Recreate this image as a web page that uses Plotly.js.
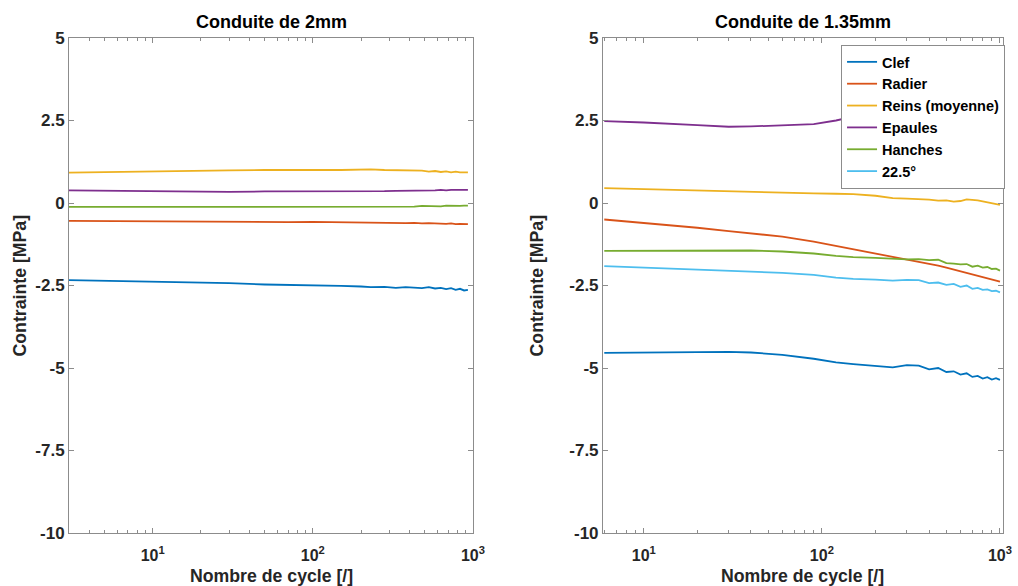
<!DOCTYPE html>
<html>
<head>
<meta charset="utf-8">
<script src="https://cdn.plot.ly/plotly-3.0.1.min.js"></script>
<style>html,body{margin:0;padding:0;background:#fff;}#chart{width:1018px;height:586px;}</style>
</head>
<body>
<div id="chart"></div>
<script>
// ---- Data ----
const seriesNames = ["Clef", "Radier", "Reins (moyenne)", "Epaules", "Hanches", "22.5°"];
const seriesColors = ["#0072BD", "#D95319", "#EDB120", "#7E2F8E", "#77AC30", "#4DBEEE"];

// Left panel : Conduite de 2mm
const cyclesLeft = [3, 5, 10, 20, 30, 50, 70, 100, 150, 200, 230, 280, 330, 380, 430, 480, 530, 580, 630, 680, 730, 780, 830, 880, 930];
const clefLeft    = [-2.34, -2.36, -2.38, -2.41, -2.43, -2.47, -2.48, -2.48, -2.51, -2.53, -2.55, -2.54, -2.57, -2.55, -2.56, -2.58, -2.55, -2.59, -2.57, -2.61, -2.58, -2.63, -2.60, -2.65, -2.63];
const radierLeft  = [-0.54, -0.55, -0.56, -0.57, -0.58, -0.58, -0.58, -0.57, -0.58, -0.60, -0.61, -0.60, -0.60, -0.61, -0.60, -0.62, -0.61, -0.62, -0.61, -0.63, -0.62, -0.64, -0.63, -0.64, -0.64];
const reinsLeft   = [0.92, 0.94, 0.96, 0.98, 0.99, 1.00, 1.01, 1.00, 1.00, 1.01, 1.02, 1.00, 0.99, 0.99, 0.97, 0.98, 0.95, 0.97, 0.94, 0.96, 0.93, 0.95, 0.93, 0.94, 0.93];
const epaulesLeft = [0.38, 0.37, 0.36, 0.35, 0.34, 0.35, 0.35, 0.35, 0.34, 0.35, 0.36, 0.36, 0.37, 0.37, 0.38, 0.37, 0.39, 0.38, 0.40, 0.38, 0.40, 0.39, 0.40, 0.40, 0.40];
const hanchesLeft = [-0.12, -0.12, -0.12, -0.11, -0.11, -0.10, -0.10, -0.10, -0.10, -0.10, -0.10, -0.11, -0.10, -0.10, -0.11, -0.09, -0.10, -0.09, -0.10, -0.08, -0.09, -0.08, -0.09, -0.08, -0.08];

// Right panel : Conduite de 1.35mm
const cyclesRight = [6, 10, 20, 30, 40, 60, 90, 120, 150, 200, 250, 300, 350, 400, 450, 500, 550, 600, 650, 700, 750, 800, 850, 900, 950, 1000];
const clefRight    = [-4.54, -4.53, -4.52, -4.51, -4.53, -4.60, -4.72, -4.83, -4.88, -4.93, -4.98, -4.91, -4.93, -5.04, -5.00, -5.12, -5.10, -5.20, -5.16, -5.27, -5.24, -5.32, -5.28, -5.35, -5.31, -5.36];
const radierRight  = [-0.50, -0.60, -0.75, -0.85, -0.92, -1.02, -1.17, -1.30, -1.40, -1.52, -1.62, -1.70, -1.78, -1.84, -1.90, -1.96, -2.02, -2.07, -2.12, -2.17, -2.21, -2.25, -2.29, -2.32, -2.35, -2.38];
const reinsRight   = [0.45, 0.42, 0.36, 0.34, 0.32, 0.31, 0.29, 0.28, 0.27, 0.22, 0.15, 0.13, 0.12, 0.10, 0.07, 0.08, 0.04, 0.06, 0.11, 0.10, 0.08, 0.05, 0.02, 0.00, -0.03, -0.06];
const epaulesRight = [2.48, 2.44, 2.36, 2.31, 2.32, 2.35, 2.39, 2.50, 2.62, 2.75, 2.85, 2.92, 2.97, 3.00, 3.03, 3.06, 3.08, 3.10, 3.12, 3.14, 3.16, 3.18, 3.20, 3.21, 3.22, 3.24];
const hanchesRight = [-1.45, -1.45, -1.44, -1.43, -1.44, -1.47, -1.53, -1.60, -1.64, -1.66, -1.70, -1.71, -1.70, -1.73, -1.72, -1.82, -1.84, -1.86, -1.85, -1.93, -1.90, -1.96, -1.94, -2.00, -1.99, -2.05];
const deg225Right  = [-1.91, -1.95, -2.02, -2.05, -2.08, -2.12, -2.18, -2.26, -2.30, -2.32, -2.35, -2.33, -2.34, -2.43, -2.41, -2.48, -2.45, -2.54, -2.50, -2.60, -2.57, -2.63, -2.62, -2.67, -2.66, -2.71];

// Tick labels
const yTickVals = [5, 2.5, 0, -2.5, -5, -7.5, -10];
const yTickText = ["5", "2.5", "0", "-2.5", "-5", "-7.5", "-10"];
const xTickVals = [10, 100, 1000];
const xTickText = ["10<sup>1</sup>", "10<sup>2</sup>", "10<sup>3</sup>"];
const xMinorVals = [2, 3, 4, 5, 6, 7, 8, 9, 20, 30, 40, 50, 60, 70, 80, 90, 200, 300, 400, 500, 600, 700, 800, 900];

const leftSeries = [clefLeft, radierLeft, reinsLeft, epaulesLeft, hanchesLeft, null];
const rightSeries = [clefRight, radierRight, reinsRight, epaulesRight, hanchesRight, deg225Right];

const traces = [];
leftSeries.forEach((ys, i) => {
  if (!ys) return;
  traces.push({x: cyclesLeft, y: ys, type: "scatter", mode: "lines", name: seriesNames[i],
    line: {color: seriesColors[i], width: 1.8}, xaxis: "x", yaxis: "y", showlegend: false});
});
rightSeries.forEach((ys, i) => {
  traces.push({x: cyclesRight, y: ys, type: "scatter", mode: "lines", name: seriesNames[i],
    line: {color: seriesColors[i], width: 1.8}, xaxis: "x2", yaxis: "y2", showlegend: true});
});

const axisColor = "#8c8c8c";
function xAxis(domain, range, anchor) {
  return {domain: domain, type: "log", range: range, anchor: anchor,
    tickmode: "array", tickvals: xTickVals, ticktext: xTickText,
    ticks: "inside", ticklen: 5, tickcolor: axisColor, showline: true, linecolor: axisColor,
    linewidth: 1, mirror: "ticks", showgrid: false, zeroline: false, ticklabelstandoff: 8,
    minor: {tickmode: "array", tickvals: xMinorVals, ticks: "inside", ticklen: 3, tickcolor: axisColor, showgrid: false},
    tickfont: {size: 16, color: "#262626"}};
}
function yAxis(anchor) {
  return {domain: [0, 1], range: [-10, 5], anchor: anchor,
    tickmode: "array", tickvals: yTickVals, ticktext: yTickText,
    ticks: "inside", ticklen: 5, tickcolor: axisColor, showline: true, linecolor: axisColor,
    linewidth: 1, mirror: "ticks", showgrid: false, zeroline: false,
    tickfont: {size: 17, color: "#262626"}};
}

const layout = {
  width: 1018, height: 586,
  margin: {l: 69, r: 15, t: 38, b: 53},
  paper_bgcolor: "#ffffff", plot_bgcolor: "#ffffff",
  font: {family: "Liberation Sans, Arial, sans-serif", size: 14, weight: "bold", color: "#262626"},
  xaxis: xAxis([0, 0.4325], [Math.log10(3), 3], "y"),
  yaxis: yAxis("x"),
  xaxis2: xAxis([0.5717, 1], [Math.log10(5.9), Math.log10(1040)], "y2"),
  yaxis2: yAxis("x2"),
  showlegend: true,
  legend: {x: 0.8266, y: 0.986, xanchor: "left", yanchor: "top", bgcolor: "#ffffff",
    bordercolor: "#8c8c8c", borderwidth: 1, itemwidth: 30,
    font: {size: 14.5, color: "#000000", weight: "bold"}},
  annotations: [
    {text: "Conduite de 2mm", xref: "paper", yref: "paper", x: 0.2163, y: 1.032, showarrow: false,
      xanchor: "center", yanchor: "middle", font: {size: 18, color: "#000000", weight: "bold"}},
    {text: "Conduite de 1.35mm", xref: "paper", yref: "paper", x: 0.7858, y: 1.032, showarrow: false,
      xanchor: "center", yanchor: "middle", font: {size: 18, color: "#000000", weight: "bold"}},
    {text: "Nombre de cycle [/]", xref: "paper", yref: "paper", x: 0.2163, y: -0.087, showarrow: false,
      xanchor: "center", yanchor: "middle", font: {size: 17.7, color: "#262626", weight: "bold"}},
    {text: "Nombre de cycle [/]", xref: "paper", yref: "paper", x: 0.7858, y: -0.087, showarrow: false,
      xanchor: "center", yanchor: "middle", font: {size: 17.7, color: "#262626", weight: "bold"}},
    {text: "Contrainte [MPa]", xref: "paper", yref: "paper", x: -0.0525, y: 0.5, textangle: -90, showarrow: false,
      xanchor: "center", yanchor: "middle", font: {size: 17.7, color: "#262626", weight: "bold"}},
    {text: "Contrainte [MPa]", xref: "paper", yref: "paper", x: 0.501, y: 0.5, textangle: -90, showarrow: false,
      xanchor: "center", yanchor: "middle", font: {size: 17.7, color: "#262626", weight: "bold"}}
  ]
};

Plotly.newPlot("chart", traces, layout, {displayModeBar: false, staticPlot: true});
</script>
</body>
</html>
